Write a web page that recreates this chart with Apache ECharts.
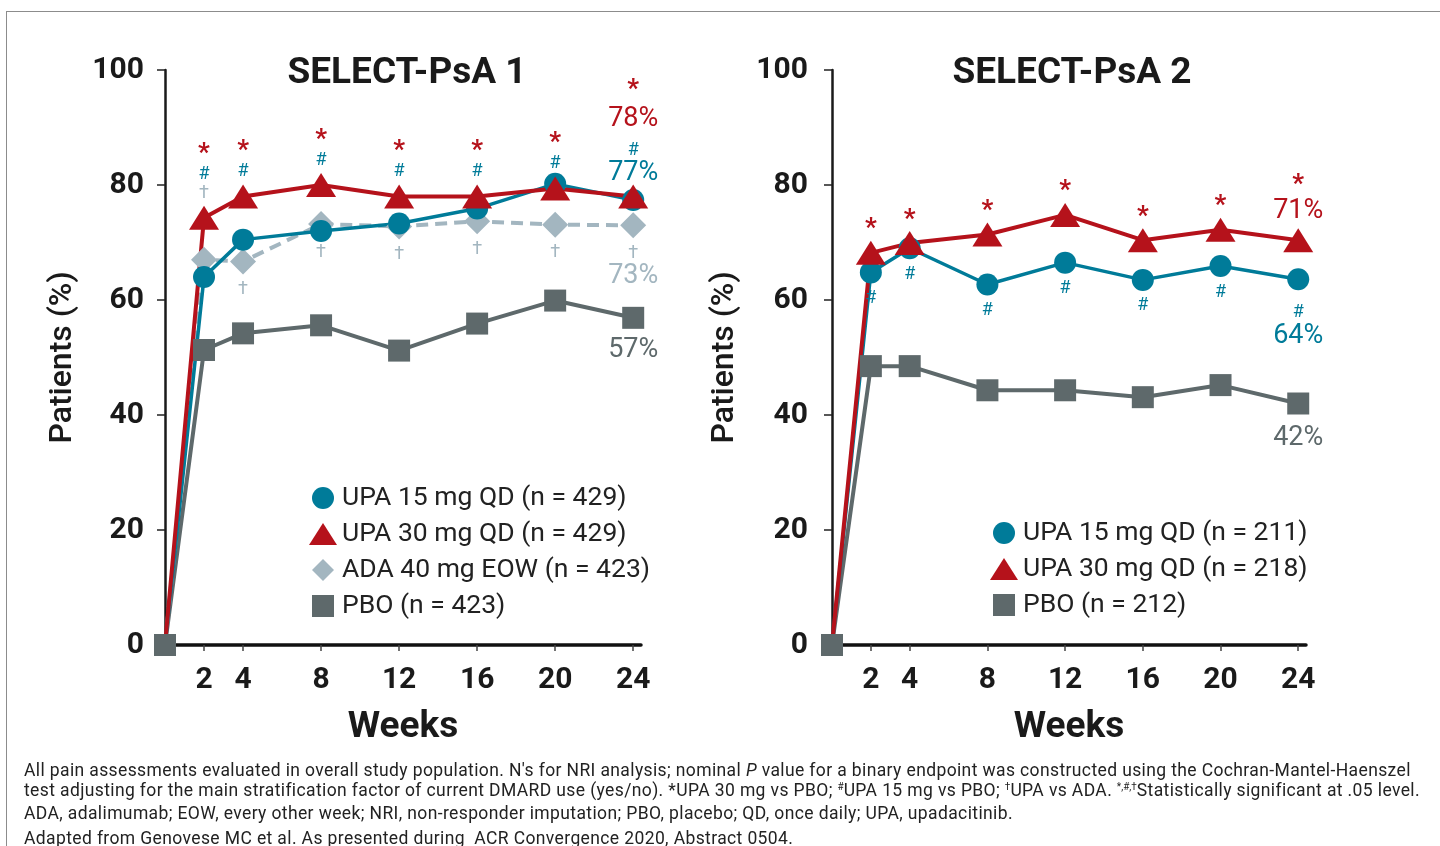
<!DOCTYPE html>
<html>
<head>
<meta charset="utf-8">
<script src="https://cdn.jsdelivr.net/npm/echarts@6/dist/echarts.min.js"></script>
<style>
html,body{margin:0;padding:0;background:#fff;width:1440px;height:846px;overflow:hidden;}
#frame{position:absolute;left:6px;top:11px;width:1500px;height:900px;border:1px solid #8c8c8c;box-sizing:border-box;}
#chart{position:absolute;left:0;top:0;width:1440px;height:846px;}
#notes{position:absolute;left:24px;top:760px;font-family:Roboto,sans-serif;font-size:17.5px;letter-spacing:0.38px;line-height:20px;color:#222;white-space:nowrap;}
#notes sup{font-size:10px;vertical-align:0;position:relative;top:-6px;letter-spacing:0;}
#notes .last{margin-top:5px;}
</style>
</head>
<body>
<div id="frame"></div>
<div id="chart"></div>
<div id="notes">
<div>All pain assessments evaluated in overall study population. N's for NRI analysis; nominal <i>P</i> value for a binary endpoint was constructed using the Cochran-Mantel-Haenszel</div>
<div>test adjusting for the main stratification factor of current DMARD use (yes/no). *UPA 30 mg vs PBO; <sup>#</sup>UPA 15 mg vs PBO; <sup>†</sup>UPA vs ADA. <sup>*,#,†</sup>Statistically significant at .05 level.</div>
<div>ADA, adalimumab; EOW, every other week; NRI, non-responder imputation; PBO, placebo; QD, once daily; UPA, upadacitinib.</div>
<div class="last">Adapted from Genovese MC et al. As presented during&nbsp; ACR Convergence 2020, Abstract 0504.</div>
</div>
<script>
// ---------------- data ----------------
const weeks = [0, 2, 4, 8, 12, 16, 20, 24];
const weekTicks = [2, 4, 8, 12, 16, 20, 24];
const titles = ['SELECT-PsA 1', 'SELECT-PsA 2'];
const axisNames = ['Weeks', 'Patients (%)'];

// SELECT-PsA 1
const psa1Names = ['UPA 15 mg QD (n = 429)', 'UPA 30 mg QD (n = 429)', 'ADA 40 mg EOW (n = 423)', 'PBO (n = 423)'];
const psa1Upa15 = [0, 64.0, 70.5, 72.0, 73.3, 75.9, 80.2, 77.4];
const psa1Upa30 = [0, 74.3, 78.0, 80.0, 78.0, 78.0, 79.4, 78.0];
const psa1Ada   = [0, 67.0, 66.7, 73.2, 72.8, 73.7, 73.1, 73.0];
const psa1Pbo   = [0, 51.3, 54.2, 55.6, 51.2, 55.9, 59.9, 56.9];
const psa1Sig30 = [0, 1, 1, 1, 1, 1, 1, 1];   // * UPA 30 vs PBO
const psa1Sig15 = [0, 1, 1, 1, 1, 1, 1, 1];   // # UPA 15 vs PBO
const psa1SigAda = [0, 1, 1, 1, 1, 1, 1, 1];  // † UPA vs ADA
const psa1End = ['77%', '78%', '73%', '57%'];

// SELECT-PsA 2
const psa2Names = ['UPA 15 mg QD (n = 211)', 'UPA 30 mg QD (n = 218)', 'PBO (n = 212)'];
const psa2Upa15 = [0, 64.8, 69.0, 62.7, 66.5, 63.5, 65.9, 63.6];
const psa2Upa30 = [0, 68.2, 69.9, 71.4, 74.8, 70.4, 72.2, 70.4];
const psa2Pbo   = [0, 48.5, 48.5, 44.3, 44.3, 43.1, 45.2, 42.0];
const psa2Sig30 = [0, 1, 1, 1, 1, 1, 1, 1];
const psa2Sig15 = [0, 1, 1, 1, 1, 1, 1, 1];
const psa2End = ['64%', '71%', '42%'];

// ---------------- styles ----------------
const RED = '#B5121B', TEAL = '#007B99', ADA = '#A3B6C0', PBO = '#5E696B', INK = '#1a1a1a';
const FONT = 'Roboto, "DejaVu Sans", sans-serif';

const rich = {
  s:   {color: RED,  fontSize: 26, fontWeight: 'bold', lineHeight: 20, fontFamily: FONT},
  sE:  {color: RED,  fontSize: 26, fontWeight: 'bold', lineHeight: 26, fontFamily: FONT},
  h:   {color: TEAL, fontSize: 18, lineHeight: 20, fontFamily: FONT},
  hE:  {color: TEAL, fontSize: 18, lineHeight: 30, fontFamily: FONT},
  hB:  {color: TEAL, fontSize: 18, lineHeight: 34, fontFamily: FONT},
  d:   {color: ADA,  fontSize: 18, lineHeight: 18, fontFamily: FONT},
  pr:  {color: RED,  fontSize: 27, lineHeight: 32, fontFamily: FONT},
  pt:  {color: TEAL, fontSize: 27, lineHeight: 16, fontFamily: FONT},
  ptB: {color: TEAL, fontSize: 27, lineHeight: 14, fontFamily: FONT},
  pa:  {color: ADA,  fontSize: 27, lineHeight: 28, fontFamily: FONT},
  pg:  {color: PBO,  fontSize: 27, lineHeight: 28, fontFamily: FONT}
};
const last = weeks.length - 1;

function pts(values, hideOrigin) {
  return weeks.map((w, i) => (i === 0 && hideOrigin) ? {value: [w, values[i]], symbol: 'none'} : [w, values[i]]);
}
function series(name, gi, values, color, symbol, size, extra) {
  return Object.assign({
    type: 'line', name: name, xAxisIndex: gi, yAxisIndex: gi,
    data: pts(values, symbol !== 'rect'),
    symbol: symbol, symbolSize: size, showAllSymbol: true,
    lineStyle: {color: color, width: 4},
    itemStyle: {color: color, opacity: 1},
    emphasis: {disabled: true},
    z: 2
  }, extra || {});
}
function lab(position, distance, fmt) {
  return {show: true, position: position, distance: distance, align: 'center', rich: rich, formatter: p => fmt(p.dataIndex)};
}

// labels for SELECT-PsA 1
const psa1RedLabel = lab('top', 3, i => {
  const L = [];
  const end = i === last;
  if (psa1Sig30[i]) L.push(end ? '{sE|*}' : '{s|*}');
  if (end) L.push('{pr|' + psa1End[1] + '}');
  if (psa1Sig15[i]) L.push(end ? '{hE|#}' : '{h|#}');
  if (end) L.push('{pt|' + psa1End[0] + '}');
  if (i === 1 && psa1SigAda[i]) L.push('{d|†}');
  return L.join('\n');
});
const psa1AdaLabel = lab('bottom', 6, i => {
  const L = [];
  if (i > 1 && psa1SigAda[i]) L.push('{d|†}');
  if (i === last) L.push('{pa|' + psa1End[2] + '}');
  return L.join('\n');
});
const psa1PboLabel = lab('bottom', 7, i => i === last ? '{pg|' + psa1End[3] + '}' : '');

// labels for SELECT-PsA 2
const psa2RedLabel = lab('top', 1, i => {
  const L = [];
  if (psa2Sig30[i]) L.push('{s|*}');
  if (i === last) L.push('{pr|' + psa2End[1] + '}');
  return L.join('\n');
});
const psa2TealLabel = lab('bottom', 5, i => {
  const L = [];
  const end = i === last;
  if (psa2Sig15[i]) L.push(end ? '{hB|#}' : '{h|#}');
  if (end) L.push('{ptB|' + psa2End[0] + '}');
  return L.join('\n');
});
const psa2PboLabel = lab('bottom', 10, i => i === last ? '{pg|' + psa2End[2] + '}' : '');

const TRI = [30, 24], CIR = 22, SQ = 22, DIA = 26;

function xAxis(gi) {
  return {
    type: 'value', gridIndex: gi, min: 0, max: 24.4,
    name: axisNames[0], nameLocation: 'middle', nameGap: 64,
    nameTextStyle: {fontSize: 37, fontWeight: 'bold', color: INK, fontFamily: FONT},
    axisLine: {show: true, onZero: false, lineStyle: {color: '#111', width: 3.5}},
    axisTick: {show: true, customValues: weekTicks, length: 6, lineStyle: {color: '#444', width: 1.5}},
    axisLabel: {show: true, customValues: weekTicks, fontSize: 30, fontWeight: 'bold', color: INK, margin: 20, fontFamily: FONT},
    splitLine: {show: false}
  };
}
function yAxis(gi) {
  return {
    type: 'value', gridIndex: gi, min: 0, max: 100, interval: 20,
    name: axisNames[1], nameLocation: 'middle', nameGap: gi === 0 ? 86 : 91, nameRotate: 90,
    nameTextStyle: {fontSize: 32, fontWeight: 500, color: INK, fontFamily: FONT},
    axisLine: {show: true, onZero: false, lineStyle: {color: '#1a1a1a', width: 2.5}},
    axisTick: {show: true, length: 8, lineStyle: {color: '#222', width: 1.5}},
    axisLabel: {fontSize: 30, fontWeight: 'bold', color: INK, margin: gi === 0 ? 21 : 24, fontFamily: FONT},
    splitLine: {show: false}
  };
}

const SQUARE = 'path://M0,0H10V10H0Z';
const DIAMOND = 'path://M5,0L10,5L5,10L0,5Z';

const option = {
  animation: false,
  backgroundColor: 'transparent',
  textStyle: {fontFamily: FONT},
  title: [
    {text: titles[0], left: 402, top: 50, textAlign: 'center', textStyle: {fontSize: 37, fontWeight: 'bold', color: INK, fontFamily: FONT}},
    {text: titles[1], left: 1067, top: 50, textAlign: 'center', textStyle: {fontSize: 37, fontWeight: 'bold', color: INK, fontFamily: FONT}}
  ],
  grid: [
    {left: 165, top: 70, width: 476, height: 575, containLabel: false, outerBoundsMode: 'none'},
    {left: 832, top: 70, width: 474, height: 575, containLabel: false, outerBoundsMode: 'none'}
  ],
  xAxis: [xAxis(0), xAxis(1)],
  yAxis: [yAxis(0), yAxis(1)],
  legend: [
    {
      data: [
        {name: psa1Names[0], icon: 'circle'},
        {name: psa1Names[1], icon: 'triangle'},
        {name: psa1Names[2], icon: DIAMOND},
        {name: psa1Names[3], icon: SQUARE}
      ],
      orient: 'vertical', left: 304, top: 478, itemWidth: 28, itemHeight: 22, itemGap: 6,
      selectedMode: false,
      textStyle: {fontSize: 26.5, color: '#222', lineHeight: 30, fontFamily: FONT}
    },
    {
      data: [
        {name: psa2Names[0], icon: 'circle'},
        {name: psa2Names[1], icon: 'triangle'},
        {name: psa2Names[2], icon: SQUARE}
      ],
      orient: 'vertical', left: 985, top: 513, itemWidth: 28, itemHeight: 22, itemGap: 6,
      selectedMode: false,
      textStyle: {fontSize: 26.5, color: '#222', lineHeight: 30, fontFamily: FONT}
    }
  ],
  series: [
    series(psa1Names[3], 0, psa1Pbo, PBO, 'rect', SQ, {label: psa1PboLabel}),
    series(psa1Names[2], 0, psa1Ada, ADA, 'diamond', DIA, {lineStyle: {color: ADA, width: 4, type: [12, 7]}, label: psa1AdaLabel}),
    series(psa1Names[0], 0, psa1Upa15, TEAL, 'circle', CIR, {lineStyle: {color: TEAL, width: 3.5}}),
    series(psa1Names[1], 0, psa1Upa30, RED, 'triangle', TRI, {label: psa1RedLabel}),

    series(psa2Names[2], 1, psa2Pbo, PBO, 'rect', SQ, {label: psa2PboLabel}),
    series(psa2Names[0], 1, psa2Upa15, TEAL, 'circle', CIR, {lineStyle: {color: TEAL, width: 3.5}, label: psa2TealLabel}),
    series(psa2Names[1], 1, psa2Upa30, RED, 'triangle', TRI, {label: psa2RedLabel})
  ]
};

const chart = echarts.init(document.getElementById('chart'), null, {renderer: 'canvas'});
chart.setOption(option);
</script>
</body>
</html>
